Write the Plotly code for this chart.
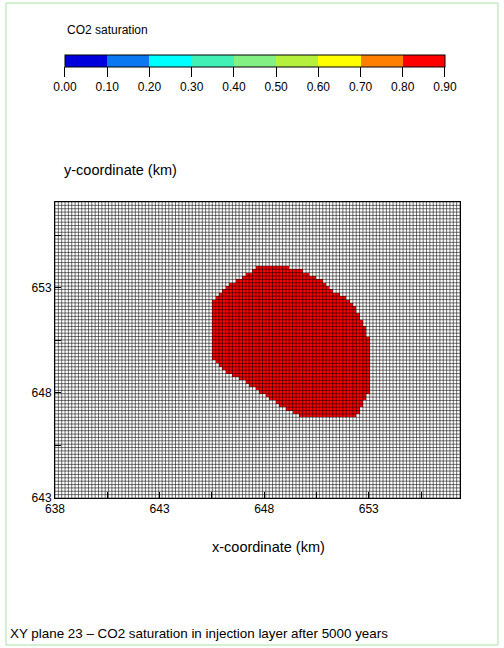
import plotly.graph_objects as go

# ---- data ----
x_start_km = 638.0
y_start_km = 643.0
cell_km = 0.16
n_cols = 121
n_rows = 88

# plume (CO2 saturation in the 0.80-0.90 band) read row by row, bottom row first
plume_first_row = 24
plume_col_start = [73, 71, 69, 67, 66, 64, 63, 61, 60, 58, 57, 55, 53, 51, 50, 49, 48, 47,
                   47, 47, 47, 47, 47, 47, 47, 47, 47, 47, 47, 47, 47, 47, 47, 47, 47,
                   48, 49, 50, 51, 52, 54, 56, 57, 59, 60]
plume_col_end = [89, 90, 90, 91, 91, 92, 92,
                 93, 93, 93, 93, 93, 93, 93, 93, 93, 93, 93, 93, 93, 93, 93, 93, 93,
                 92, 92, 92, 91, 91, 90, 90, 89, 89,
                 88, 87, 86, 84, 82, 81, 80, 79, 77, 75, 73, 69]
plume_saturation = 0.85

cbar_ticks = [0.0, 0.1, 0.2, 0.3, 0.4, 0.5, 0.6, 0.7, 0.8, 0.9]
cbar_colors = ['#0000dc', '#0a78f0', '#00ffff', '#40f0b4', '#82f082',
               '#b4f03c', '#ffff00', '#ff8000', '#ff0000']
x_tick_vals = [638, 643, 648, 653]
y_tick_vals = [643, 648, 653]

# ---- build grid ----
x_centers = [x_start_km + cell_km * (i + 0.5) for i in range(n_cols)]
y_centers = [y_start_km + cell_km * (j + 0.5) for j in range(n_rows)]
z = [[None] * n_cols for _ in range(n_rows)]
for k in range(min(len(plume_col_start), len(plume_col_end))):
    r = plume_first_row + k
    for c in range(plume_col_start[k], plume_col_end[k] + 1):
        z[r][c] = plume_saturation

x_max = x_start_km + cell_km * n_cols
y_max = y_start_km + cell_km * n_rows

# stepped colorscale
zmin, zmax = cbar_ticks[0], cbar_ticks[-1]
cs = []
for i, col in enumerate(cbar_colors):
    a = (cbar_ticks[i] - zmin) / (zmax - zmin)
    b = (cbar_ticks[i + 1] - zmin) / (zmax - zmin)
    cs.append([a, col])
    cs.append([b, col])

fig = go.Figure()
fig.add_trace(go.Heatmap(
    x=x_centers, y=y_centers, z=z, zmin=zmin, zmax=zmax, colorscale=cs,
    hoverinfo='skip',
    colorbar=dict(
        orientation='h', lenmode='pixels', len=380, thickness=12,
        x=0.4938, xanchor='center', y=1.4966, yanchor='top', ypad=0, xpad=0,
        outlinecolor='black', outlinewidth=1,
        tickvals=cbar_ticks, tickformat='.2f', ticks='outside', ticklen=10,
        tickcolor='black', tickwidth=1,
        tickfont=dict(family='Liberation Sans', size=12, color='black'),
    ),
))

# grid lines
gx, gy = [], []
for i in range(n_cols + 1):
    xe = x_start_km + cell_km * i
    gx += [xe, xe, None]
    gy += [y_start_km, y_max, None]
for j in range(n_rows + 1):
    ye = y_start_km + cell_km * j
    gx += [x_start_km, x_max, None]
    gy += [ye, ye, None]
fig.add_trace(go.Scatter(x=gx, y=gy, mode='lines',
                         line=dict(color='rgba(0,0,0,0.55)', width=1),
                         hoverinfo='skip', showlegend=False))

font_family = 'Liberation Sans'
fig.update_layout(
    width=504, height=648,
    margin=dict(l=55, r=44, t=202, b=150),
    paper_bgcolor='white', plot_bgcolor='white',
    showlegend=False,
    font=dict(family=font_family, size=12, color='black'),
    xaxis=dict(range=[x_start_km, x_max], tickvals=x_tick_vals, ticks='inside',
               ticklen=6, tickcolor='black', showgrid=False, zeroline=False,
               showline=True, linecolor='black', linewidth=1, mirror=True,
               minor=dict(dtick=2.5, tick0=638, ticks='inside', ticklen=6,
                          tickcolor='black', showgrid=False),
               tickfont=dict(size=12)),
    yaxis=dict(range=[y_start_km, y_max], tickvals=y_tick_vals, ticks='inside',
               ticklen=6, tickcolor='black', showgrid=False, zeroline=False,
               showline=True, linecolor='black', linewidth=1, mirror=True,
               minor=dict(dtick=2.5, tick0=643, ticks='inside', ticklen=6,
                          tickcolor='black', showgrid=False),
               tickfont=dict(size=12)),
    annotations=[
        dict(text='CO2 saturation', xref='paper', yref='paper', x=0.0247, y=1.581,
             xanchor='left', yanchor='middle', showarrow=False, font=dict(size=12)),
        dict(text='y-coordinate (km)', xref='paper', yref='paper', x=0.017, y=1.108,
             xanchor='left', yanchor='middle', showarrow=False, font=dict(size=14.5)),
        dict(text='x-coordinate (km)', xref='paper', yref='paper', x=0.526, y=-0.1655,
             xanchor='center', yanchor='middle', showarrow=False, font=dict(size=14.5)),
        dict(text='XY plane 23 \u2013 CO2 saturation in injection layer after 5000 years',
             xref='paper', yref='paper', x=-0.116, y=-0.459,
             xanchor='left', yanchor='middle', showarrow=False, font=dict(size=13.4)),
    ],
    shapes=[
        dict(type='rect', xref='paper', yref='paper', x0=-0.121, x1=1.0938,
             y0=-0.4966, y1=1.672, line=dict(color='#a8e0a8', width=1),
             fillcolor='rgba(0,0,0,0)', layer='below'),
    ],
)

fig.write_html('out.html')
